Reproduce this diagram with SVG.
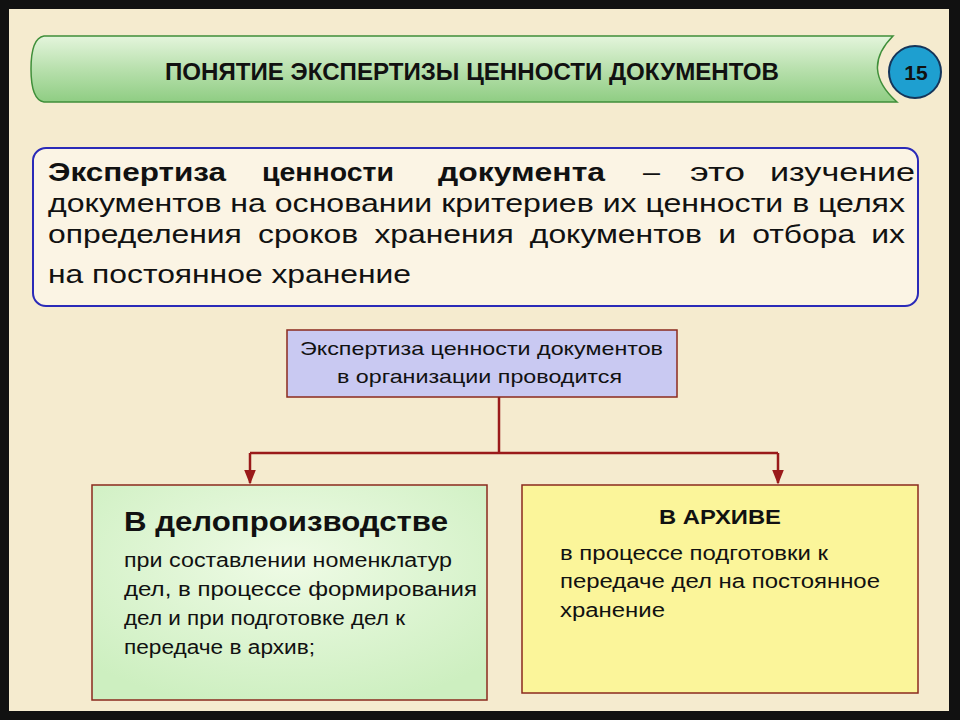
<svg xmlns="http://www.w3.org/2000/svg" width="960" height="720" viewBox="0 0 960 720">
<defs>
<linearGradient id="gBanner" x1="0" y1="0" x2="0" y2="1">
<stop offset="0" stop-color="#e4f5dc"/>
<stop offset="0.5" stop-color="#b8e0ad"/>
<stop offset="1" stop-color="#8fcd83"/>
</linearGradient>
<radialGradient id="gGreen" cx="0.5" cy="0.35" r="0.7">
<stop offset="0" stop-color="#effbe6"/>
<stop offset="1" stop-color="#cdefc0"/>
</radialGradient>
<marker id="arr" viewBox="0 0 10 10" refX="9" refY="5" markerWidth="6" markerHeight="6" orient="auto">
<path d="M0,1 L10,5 L0,9 z" fill="#9a1a1a"/>
</marker>
<style>
.t{font-family:"Liberation Sans",Arial,sans-serif;fill:#111}
.box{stroke:#8b2a1e;stroke-width:1.5}
.con{stroke:#9a1a1a;stroke-width:2.5;fill:none}
</style>
</defs>
<rect x="0" y="0" width="960" height="720" fill="#111"/>
<rect x="9" y="9" width="940" height="702" fill="#f5ebcf"/>
<g id="title">
<path d="M44,36 L893,36 Q860,69 897,102 L44,102 Q31,100 31,69 Q31,38 44,36 Z" fill="url(#gBanner)" stroke="#3f8f3a" stroke-width="1.5"/>
<text x="472" y="80" text-anchor="middle" font-size="23" font-weight="bold" fill="#111" font-family="'Liberation Sans Narrow','Liberation Sans',Arial,sans-serif" textLength="614" lengthAdjust="spacingAndGlyphs">ПОНЯТИЕ  ЭКСПЕРТИЗЫ ЦЕННОСТИ ДОКУМЕНТОВ</text>
</g>
<g id="page-number">
<circle cx="915" cy="72" r="26" fill="#1e9fd0" stroke="#15355a" stroke-width="2"/>
<text class="t" x="916" y="80" text-anchor="middle" font-size="21" font-weight="bold" fill="#14244a">15</text>
</g>
<g id="definition">
<rect x="33" y="148" width="885" height="158" rx="13" fill="#fbf4e4" stroke="#2a2ab8" stroke-width="2"/>
<g font-weight="bold">
<text class="t" font-size="26" x="48" y="181" textLength="178" lengthAdjust="spacingAndGlyphs">Экспертиза</text>
<text class="t" font-size="26" x="262" y="181" textLength="132" lengthAdjust="spacingAndGlyphs">ценности</text>
<text class="t" font-size="26" x="438" y="181" textLength="167" lengthAdjust="spacingAndGlyphs">документа</text>
</g>
<text class="t" font-size="26" x="643" y="181" textLength="17" lengthAdjust="spacingAndGlyphs">–</text>
<text class="t" font-size="26" x="690" y="181" textLength="55" lengthAdjust="spacingAndGlyphs">это</text>
<text class="t" font-size="26" x="770" y="181" textLength="145" lengthAdjust="spacingAndGlyphs">изучение</text>
<text class="t" font-size="26" x="48" y="212" textLength="857" lengthAdjust="spacingAndGlyphs">документов на основании критериев их ценности в целях</text>
<text class="t" font-size="26" x="48" y="243" textLength="857" lengthAdjust="spacingAndGlyphs" word-spacing="6">определения сроков хранения документов и отбора их</text>
<text class="t" font-size="26" x="48" y="283" textLength="363" lengthAdjust="spacingAndGlyphs">на постоянное хранение</text>
</g>
<g id="connectors">
<path class="con" d="M499,397 V453"/>
<path class="con" d="M250,453 H778"/>
<path class="con" d="M250,453 V483" marker-end="url(#arr)"/>
<path class="con" d="M778,453 V483" marker-end="url(#arr)"/>
</g>
<g id="center-node">
<rect class="box" x="287" y="330" width="390" height="67" fill="#c9c9f2"/>
<text class="t" font-size="19" x="300" y="355" textLength="363" lengthAdjust="spacingAndGlyphs">Экспертиза ценности документов</text>
<text class="t" font-size="19" x="337" y="383" textLength="285" lengthAdjust="spacingAndGlyphs">в организации проводится</text>
</g>
<g id="office-node">
<rect class="box" x="92" y="485" width="395" height="215" fill="url(#gGreen)"/>
<text class="t" font-size="28" font-weight="bold" x="124" y="531" textLength="324" lengthAdjust="spacingAndGlyphs">В делопроизводстве</text>
<text class="t" font-size="20" x="124" y="567" textLength="328" lengthAdjust="spacingAndGlyphs">при составлении номенклатур</text>
<text class="t" font-size="20" x="124" y="596" textLength="353" lengthAdjust="spacingAndGlyphs">дел, в процессе формирования</text>
<text class="t" font-size="20" x="124" y="625" textLength="281" lengthAdjust="spacingAndGlyphs">дел и при подготовке дел к</text>
<text class="t" font-size="20" x="124" y="654" textLength="191" lengthAdjust="spacingAndGlyphs">передаче в архив;</text>
</g>
<g id="archive-node">
<rect class="box" x="522" y="485" width="396" height="208" fill="#fbf59a"/>
<text class="t" font-size="20" font-weight="bold" x="659" y="524" textLength="122" lengthAdjust="spacingAndGlyphs">В АРХИВЕ</text>
<text class="t" font-size="20" x="560" y="560" textLength="268" lengthAdjust="spacingAndGlyphs">в процессе подготовки к</text>
<text class="t" font-size="20" x="560" y="588" textLength="320" lengthAdjust="spacingAndGlyphs">передаче дел на постоянное</text>
<text class="t" font-size="20" x="560" y="617" textLength="105" lengthAdjust="spacingAndGlyphs">хранение</text>
</g>
</svg>
